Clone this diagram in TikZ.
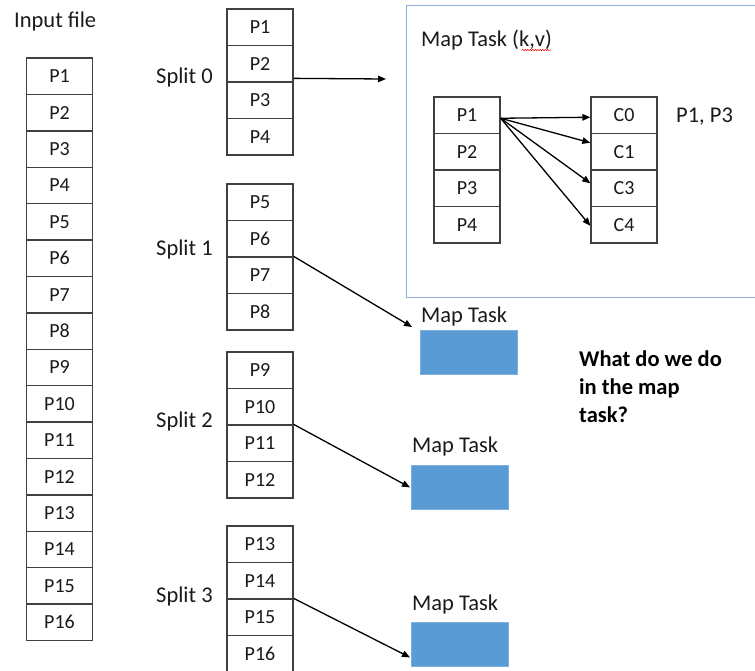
\documentclass[tikz,border=0pt]{standalone}
\usepackage{fontspec}
\setmainfont{Carlito}
\usetikzlibrary{arrows.meta,calc,decorations.pathmorphing}
\definecolor{cellline}{HTML}{404040}
\definecolor{txt}{HTML}{1A1A1A}
\definecolor{frameblue}{HTML}{8FAADC}
\definecolor{taskblue}{HTML}{5B9BD5}
\definecolor{taskedge}{HTML}{7EB0DE}
\begin{document}
\begin{tikzpicture}[x=1pt,y=-1pt,
  cell/.style={draw=cellline, line width=1.3pt, minimum width=66pt, minimum height=36.5pt, inner sep=0pt, font=\fontsize{20}{24}\selectfont, text=txt},
  lbl/.style={anchor=base west, inner sep=0pt, font=\fontsize{22.5}{27}\selectfont, text=txt},
  qlbl/.style={anchor=base west, inner sep=0pt, font=\fontsize{22.5}{27}\selectfont\bfseries, text=black},
  conn/.style={line width=1.3pt, -{Triangle[length=8pt,width=6.5pt]}},
  task/.style={fill=taskblue, draw=taskedge, line width=0.8pt, minimum width=97pt, minimum height=44pt, inner sep=0pt, anchor=north west}]
\useasboundingbox (0,0) rectangle (755,670);

% input file column
\node[lbl] (inlab) at (14,27) {Input file};
\foreach \i in {1,...,16}
  \node[cell] (in\i) at (59.5,{58+36.4*(\i-0.5)}) {P\i};

% splits
\foreach \k/\tp in {0/9,1/184,2/352,3/526}{
  \foreach \j in {1,...,4}{
    \pgfmathtruncatemacro\n{4*\k+\j}
    \node[cell] (s\k-\j) at (260,{\tp+36.5*(\j-0.5)}) {P\n};
  }
}
\node[lbl] (l0) at (156,83) {Split 0};
\node[lbl] (l1) at (156,255) {Split 1};
\node[lbl] (l2) at (156,427) {Split 2};
\node[lbl] (l3) at (156,602) {Split 3};

% map task frame
\node[draw=frameblue, line width=1.2pt, minimum width=360pt, minimum height=292pt, inner sep=0pt, anchor=north west] (frame) at (406,5) {};
\node[lbl] (mtk) at (421,46) {Map Task (k,v)};
\draw[red, line width=0.5pt, decorate, decoration={snake, amplitude=0.7pt, segment length=2.5pt}] (522,50) -- (551,50);

\foreach \j in {1,...,4}
  \node[cell] (p\j) at (467,{97+36.5*(\j-0.5)}) {P\j};
\foreach \j/\c in {1/0,2/1,3/3,4/4}
  \node[cell] (c\c) at (624,{97+36.5*(\j-0.5)}) {C\c};
\node[lbl] (pp) at (676,122) {P1, P3};

\draw[conn] ([yshift=-3pt]p1.east) -- ([yshift=-2pt]c0.west);
\draw[conn] ([yshift=-3pt]p1.east) -- ([yshift=9pt]c1.west);
\draw[conn] ([yshift=-3pt]p1.east) -- ([yshift=5pt]c3.west);
\draw[conn] ([yshift=-3pt]p1.east) -- ([yshift=-1pt]c4.west);

% arrow from split 0
\coordinate (e0) at (386,79);
\draw[conn] ([yshift=3pt]s0-3.north east) -- (e0);

% map tasks
\node[task] (t1) at (420,330) {};
\node[task] (t2) at (411,465) {};
\node[task] (t3) at (411,622) {};
\node[lbl] (tl1) at (421,322) {Map Task};
\node[lbl] (tl2) at (412,452) {Map Task};
\node[lbl] (tl3) at (412,610) {Map Task};

\draw[conn] (s1-3.north east) -- ([xshift=-8pt,yshift=3pt]t1.north west);
\draw[conn] (s2-3.north east) -- ([xshift=-1pt]t2.west);
\draw[conn] (s3-3.north east) -- ([xshift=-1pt,yshift=-13pt]t3.west);

% question
\node[qlbl] (q1) at (579,366) {What do we do};
\node[qlbl] (q2) at (579,394) {in the map};
\node[qlbl] (q3) at (579,422) {task?};
\end{tikzpicture}
\end{document}
